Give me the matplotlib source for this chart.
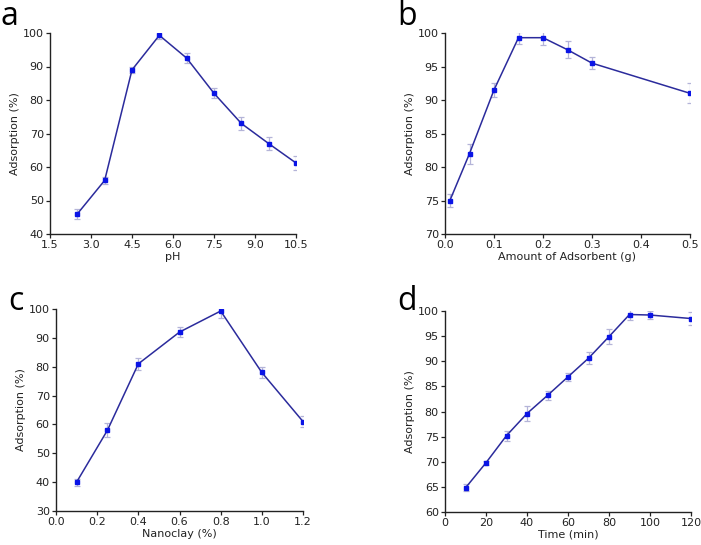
import matplotlib
matplotlib.use("Agg")
from matplotlib import pyplot as plt

# panel a: pH
ph = [2.5, 3.5, 4.5, 5.5, 6.5, 7.5, 8.5, 9.5, 10.5]
ph_ads = [46, 56, 89, 99.3, 92.5, 82, 73, 67, 61.2]
ph_err = [1.5, 1.0, 1.0, 1.0, 1.5, 1.5, 2.0, 2.0, 2.0]

# panel b: amount of adsorbent
dose = [0.01, 0.05, 0.1, 0.15, 0.2, 0.25, 0.3, 0.5]
dose_ads = [75, 82, 91.5, 99.3, 99.3, 97.5, 95.5, 91]
dose_err = [0.9, 1.5, 1.0, 0.9, 1.1, 1.3, 0.9, 1.5]

# panel c: nanoclay
clay = [0.1, 0.25, 0.4, 0.6, 0.8, 1.0, 1.2]
clay_ads = [40, 58, 81, 92, 99.3, 78, 61]
clay_err = [1.2, 2.5, 2.0, 1.8, 2.5, 1.8, 2.0]

# panel d: time
time = [10, 20, 30, 40, 50, 60, 70, 80, 90, 100, 120]
time_ads = [64.8, 69.8, 75.2, 79.6, 83.2, 86.9, 90.6, 94.9, 99.3, 99.2, 98.5]
time_err = [0.7, 0.4, 1.0, 1.4, 0.9, 0.8, 1.2, 1.5, 1.0, 0.8, 1.3]

W, H = 701, 545


def add_panel(fig, box, x, y, err, xlim, xticks, xticklabels, ylim, yticks,
              xlabel, letter, letter_pos):
    """ Adds one panel; box is (left, top, right, bottom) in pixels """
    l, t, r, b = box
    ax = fig.add_axes([l / W, 1 - b / H, (r - l) / W, (b - t) / H])
    ax.errorbar(x, y, yerr=err, fmt='none', ecolor='#b4b4d8', elinewidth=0.9,
                capsize=2, capthick=0.9, zorder=1)
    ax.plot(x, y, '-', color='#2b2b9c', lw=1.1, zorder=2)
    ax.plot(x, y, 's', color='#0a14e6', ms=3.4, zorder=3)
    ax.set_xlim(*xlim)
    ax.set_ylim(*ylim)
    ax.set_xticks(xticks)
    ax.set_xticklabels(xticklabels)
    ax.set_yticks(yticks)
    for s in ['top', 'right']:
        ax.spines[s].set_visible(False)
    for s in ['left', 'bottom']:
        ax.spines[s].set_linewidth(1.0)
        ax.spines[s].set_color('#222222')
    ax.tick_params(direction='out', length=3, width=0.9, labelsize=8,
                   colors='#222222', pad=1.5)
    ax.set_xlabel(xlabel, fontsize=8, labelpad=1, color='#222222')
    ax.set_ylabel('Adsorption (%)', fontsize=8, labelpad=2, color='#222222')
    fig.text(letter_pos[0] / W, 1 - letter_pos[1] / H, letter, fontsize=23,
             ha='left', va='baseline', family='Open Sans')
    return ax


fig = plt.figure(figsize=(W / 100, H / 100), dpi=100)

add_panel(fig, (50, 33, 296, 234), ph, ph_ads, ph_err, (1.5, 10.5),
          [1.5, 3.0, 4.5, 6.0, 7.5, 9.0, 10.5],
          ['1.5', '3.0', '4.5', '6.0', '7.5', '9.0', '10.5'],
          (40, 100), range(40, 101, 10), 'pH', 'a', (0, 25))

add_panel(fig, (445, 33, 690, 234), dose, dose_ads, dose_err, (0, 0.5),
          [0, 0.1, 0.2, 0.3, 0.4, 0.5],
          ['0.0', '0.1', '0.2', '0.3', '0.4', '0.5'],
          (70, 100), range(70, 101, 5), 'Amount of Adsorbent (g)', 'b', (397, 25))

add_panel(fig, (56, 309, 303, 511), clay, clay_ads, clay_err, (0, 1.2),
          [0, 0.2, 0.4, 0.6, 0.8, 1.0, 1.2],
          ['0.0', '0.2', '0.4', '0.6', '0.8', '1.0', '1.2'],
          (30, 100), range(30, 101, 10), 'Nanoclay (%)', 'c', (8, 310))

add_panel(fig, (445, 311, 691, 512), time, time_ads, time_err, (0, 120),
          range(0, 121, 20), [str(v) for v in range(0, 121, 20)],
          (60, 100), range(60, 101, 5), 'Time (min)', 'd', (397, 310))

plt.savefig('out.png', dpi=100)
